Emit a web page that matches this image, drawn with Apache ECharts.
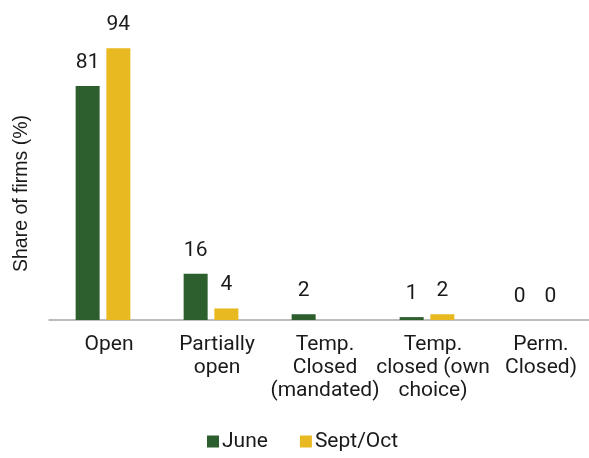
<!DOCTYPE html>
<html><head><meta charset="utf-8">
<script src="https://cdn.jsdelivr.net/npm/echarts@6/dist/echarts.min.js"></script>
<style>html,body{margin:0;padding:0;background:#fff}#c{width:589px;height:458px}</style>
</head><body><div id="c"></div>
<script>
const categories = ["Open", "Partially\nopen", "Temp.\nClosed\n(mandated)", "Temp.\nclosed (own\nchoice)", "Perm.\nClosed)"];
const june = [81, 16, 2, 1, 0];
const septOct = [94, 4, null, 2, 0];
const seriesNames = ["June", "Sept/Oct"];
const colors = ["#2d5e2e", "#e9b922"];

const chart = echarts.init(document.getElementById('c'));
const font = 'Roboto, "Noto Sans", sans-serif';
const lbl = {show: true, position: 'top', distance: 13, color: '#1a1a1a', fontSize: 21, fontFamily: font};
chart.setOption({
  animation: false,
  textStyle: {fontFamily: font},
  legend: {
    bottom: 1, left: 202, itemWidth: 12, itemHeight: 12, itemGap: 32,
    icon: 'rect',
    textStyle: {fontSize: 21, color: '#1a1a1a', fontFamily: font, padding: [0,0,0,-2]},
    data: seriesNames
  },
  grid: {left: 49, right: 0, top: 31, bottom: 138, containLabel: false, outerBoundsMode: 'none'},
  xAxis: {
    type: 'category', data: categories,
    axisLine: {lineStyle: {color: '#a6a6a6', width: 1.5}},
    axisTick: {show: false},
    axisLabel: {fontSize: 21, color: '#1a1a1a', lineHeight: 23, margin: 13, interval: 0, fontFamily: font, padding: [0,0,0,12]}
  },
  yAxis: {
    type: 'value', min: 0, max: 100,
    name: 'Share of firms (%)', nameLocation: 'middle', nameRotate: 90, nameGap: 17,
    nameTextStyle: {fontSize: 19.5, color: '#1a1a1a', fontFamily: '"Liberation Sans", Arial, sans-serif', padding: [0,36,0,0]},
    axisLine: {show: false}, axisTick: {show: false}, axisLabel: {show: false},
    splitLine: {show: false}
  },
  series: [
    {name: seriesNames[0], type: 'bar', data: june, barWidth: 24, barGap: '28%', itemStyle: {color: colors[0]}, label: lbl},
    {name: seriesNames[1], type: 'bar', data: septOct, barWidth: 24, itemStyle: {color: colors[1]}, label: lbl}
  ]
});
</script></body></html>
